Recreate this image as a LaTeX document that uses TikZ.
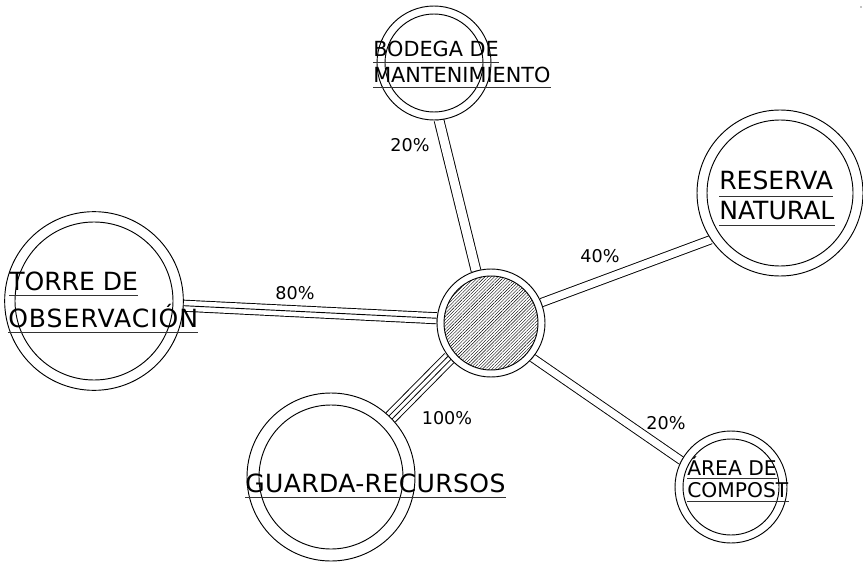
\documentclass[tikz,border=0pt]{standalone}
\usepackage{fontspec}
\setmainfont{DejaVu Sans}
\usetikzlibrary{patterns.meta,backgrounds}
\tikzset{
  ring/.style={circle, draw, fill=white, line width=0.7pt, inner sep=0pt, minimum size=#1},
  innerring/.style={line width=0.7pt},
  lblA/.style={inner sep=0pt, anchor=base west, font=\fontsize{15.6}{18}\selectfont},
  lblB/.style={inner sep=0pt, anchor=base west, font=\fontsize{18.8}{22}\selectfont},
  lblC/.style={inner sep=0pt, anchor=base west, font=\fontsize{15.2}{18}\selectfont},
  pct/.style={inner sep=0pt, font=\fontsize{13.2}{15}\selectfont},
  ul/.style={line width=0.8pt, black!80},
  two/.style={double, double distance=#1, line width=0.7pt},
  single/.style={line width=0.7pt},
}
\begin{document}
\begin{tikzpicture}[x=0.75pt, y=-0.75pt]
\useasboundingbox (0,0) rectangle (863,563);

% nodes (circles)
\node[ring=81pt]    (hub) at (491,323) {};
\node[ring=85.5pt]  (bod) at (434,63) {};
\node[ring=124.5pt] (res) at (780,193) {};
\node[ring=134pt]   (tor) at (94,301) {};
\node[ring=126pt]   (gua) at (331,477) {};
\node[ring=84pt]    (com) at (731,487) {};

% inner rings
\fill[pattern={Lines[angle=45,distance=1.7pt,line width=0.3pt]}] (hub.center) circle[radius=35.25pt];
\draw[innerring] (hub.center) circle[radius=35.25pt];
\draw[innerring] (bod.center) circle[radius=36.75pt];
\draw[innerring] (res.center) circle[radius=54.75pt];
\draw[innerring] (tor.center) circle[radius=59.25pt];
\draw[innerring] (gua.center) circle[radius=54pt];
\draw[innerring] (com.center) circle[radius=36pt];

% connectors
\begin{scope}[on background layer]
\draw[two=6.6pt] (hub.106) -- (bod.-85);
\draw[two=5.6pt] (hub.22) -- (res.214);
\draw[two=5.4pt] (hub.-40) -- (com.152);
\draw[two=7.6pt] (hub.175) -- (tor.-3);
\draw[single] (hub.175) -- (tor.-3);
\draw[two=9pt] (hub.220) -- (gua.45);
\draw[two=2.4pt] (hub.220) -- (gua.45);
\end{scope}

% labels
\node[lblA] (t1) at (373,57) {BODEGA DE};
\node[lblA] (t2) at (373,83) {MANTENIMIENTO};
\node[lblB] (t3) at (719,190) {RESERVA};
\node[lblB] (t4) at (719,219) {NATURAL};
\node[lblB] (t5) at (9,290) {TORRE DE};
\node[lblB] (t6) at (8,327) {\addfontfeature{LetterSpace=4}OBSERVACIÓN};
\node[lblB] (t7) at (245,492) {\addfontfeature{LetterSpace=1.5}GUARDA-RECURSOS};
\node[lblC] (t8) at (687,475) {ÁREA DE};
\node[lblC] (t9) at (687,497) {COMPOST};

\foreach \t/\d in {t1/3.8pt,t2/3.4pt,t3/4.6pt,t4/5pt,t5/4pt,t6/4.4pt,t7/4pt,t8/2.6pt,t9/3.6pt}{
  \draw[ul] ([yshift=-\d]\t.base west) -- ([yshift=-\d]\t.base east);
}

% percentages
\node[pct] (p1) at (410,145) {20\%};
\node[pct] (p2) at (600,256) {40\%};
\node[pct] (p3) at (295,293) {80\%};
\node[pct] (p4) at (447,418) {100\%};
\node[pct] (p5) at (666,423) {20\%};

\fill (861,7) circle[radius=0.5pt];
\end{tikzpicture}
\end{document}
